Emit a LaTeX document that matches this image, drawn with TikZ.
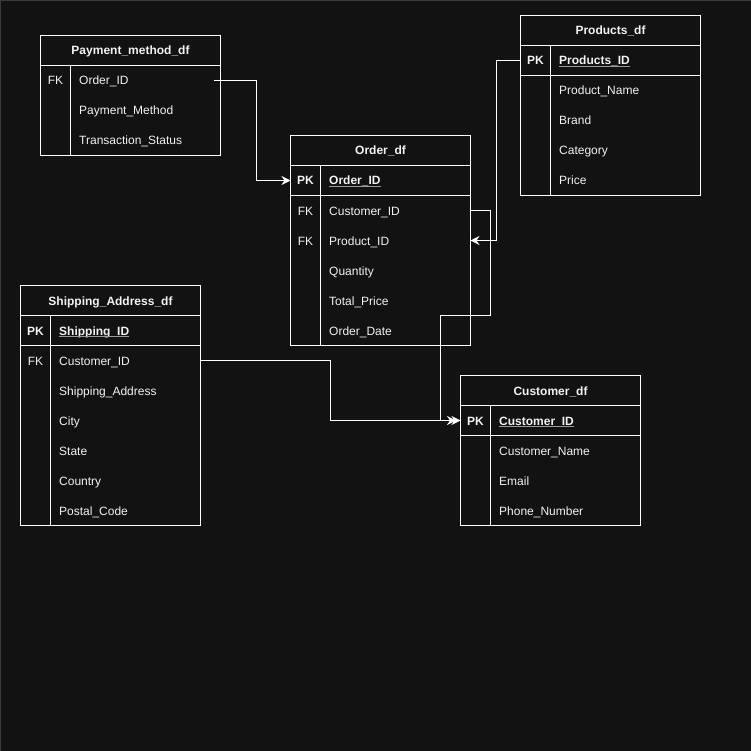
\documentclass[tikz,border=0pt]{standalone}
\usepackage{fontspec}
\setmainfont{Liberation Sans}
\usetikzlibrary{arrows.meta}
\definecolor{bg}{HTML}{121212}
\definecolor{fg}{HTML}{F2F2F2}
\definecolor{ulgray}{HTML}{9A9A9A}
\definecolor{edgegray}{HTML}{3C3C3C}
\newcommand\fz{\fontsize{12}{14}\selectfont}
\tikzset{
  tblbox/.style={draw=white, line width=1pt, inner sep=0pt, outer sep=0pt, anchor=north west, minimum width=180pt},
  grid/.style={draw=white, line width=1pt},
  txt/.style={text=fg, inner sep=0pt, text height=9pt, text depth=0pt, font=\fz},
  hdr/.style={txt, anchor=center, font=\fz\bfseries},
  keyc/.style={txt, anchor=center},
  pkkey/.style={txt, anchor=center, font=\fz\bfseries},
  fld/.style={txt, anchor=west},
  pkfld/.style={txt, anchor=west, font=\fz\bfseries},
  ul/.style={draw=ulgray, line width=1pt},
  rel/.style={draw=white, line width=1pt, -{Stealth[length=9pt,width=9pt,inset=3pt]}},
}
\newcommand\ulnode[1]{\draw[ul] ([yshift=-1.6pt]#1.base west) -- ([yshift=-1.6pt]#1.base east);}
\begin{document}
\begin{tikzpicture}[x=1pt,y=-1pt]
\fill[bg] (0,0) rectangle (751,751);
\useasboundingbox (0,0) rectangle (751,751);
\draw[edgegray, line width=1pt] (0.5,751) -- (0.5,0.5) -- (751,0.5);

\begin{scope}[shift={(0.5,0.5)}]
% ---------- Payment_method_df ----------
\node[tblbox, minimum height=120pt] (pay) at (40,35) {};
\draw[grid] (40,65) -- (220,65);
\draw[grid] (70,65) -- (70,155);
\node[hdr] (pay_h) at (130,50) {Payment\_method\_df};
\node[keyc] (pay_k1) at (55,80) {FK};
\node[fld] (pay_f1) at (78.5,80) {Order\_ID};
\node[fld] (pay_f2) at (78.5,110) {Payment\_Method};
\node[fld] (pay_f3) at (78.5,140) {Transaction\_Status};

% ---------- Order_df ----------
\node[tblbox, minimum height=210pt] (order) at (290,135) {};
\draw[grid] (290,165) -- (470,165);
\draw[grid] (290,195) -- (470,195);
\draw[grid] (320,165) -- (320,345);
\node[hdr] (ord_h) at (380,150) {Order\_df};
\node[pkkey] (ord_kpk) at (305,180) {PK};
\node[pkfld] (ord_pk) at (328.5,180) {Order\_ID};
\ulnode{ord_pk}
\node[keyc] (ord_k1) at (305,210) {FK};
\node[keyc] (ord_k2) at (305,240) {FK};
\node[fld] (ord_cust) at (328.5,210) {Customer\_ID};
\node[fld] (ord_prod) at (328.5,240) {Product\_ID};
\node[fld] (ord_qty) at (328.5,270) {Quantity};
\node[fld] (ord_tot) at (328.5,300) {Total\_Price};
\node[fld] (ord_date) at (328.5,330) {Order\_Date};

% ---------- Products_df ----------
\node[tblbox, minimum height=180pt] (prod) at (520,15) {};
\draw[grid] (520,45) -- (700,45);
\draw[grid] (520,75) -- (700,75);
\draw[grid] (550,45) -- (550,195);
\node[hdr] (prod_h) at (610,30) {Products\_df};
\node[pkkey] (prod_kpk) at (535,60) {PK};
\node[pkfld] (prod_pk) at (558.5,60) {Products\_ID};
\ulnode{prod_pk}
\node[fld] (prod_f1) at (558.5,90) {Product\_Name};
\node[fld] (prod_f2) at (558.5,120) {Brand};
\node[fld] (prod_f3) at (558.5,150) {Category};
\node[fld] (prod_f4) at (558.5,180) {Price};

% ---------- Shipping_Address_df ----------
\node[tblbox, minimum height=240pt] (ship) at (20,285) {};
\draw[grid] (20,315) -- (200,315);
\draw[grid] (20,345) -- (200,345);
\draw[grid] (50,315) -- (50,525);
\node[hdr] (ship_h) at (110,300) {Shipping\_Address\_df};
\node[pkkey] (ship_kpk) at (35,330) {PK};
\node[pkfld] (ship_pk) at (58.5,330) {Shipping\_ID};
\ulnode{ship_pk}
\node[keyc] (ship_k1) at (35,360) {FK};
\node[fld] (ship_cust) at (58.5,360) {Customer\_ID};
\node[fld] (ship_f2) at (58.5,390) {Shipping\_Address};
\node[fld] (ship_f3) at (58.5,420) {City};
\node[fld] (ship_f4) at (58.5,450) {State};
\node[fld] (ship_f5) at (58.5,480) {Country};
\node[fld] (ship_f6) at (58.5,510) {Postal\_Code};

% ---------- Customer_df ----------
\node[tblbox, minimum height=150pt] (cust) at (460,375) {};
\draw[grid] (460,405) -- (640,405);
\draw[grid] (460,435) -- (640,435);
\draw[grid] (490,405) -- (490,525);
\node[hdr] (cust_h) at (550,390) {Customer\_df};
\node[pkkey] (cust_kpk) at (475,420) {PK};
\node[pkfld] (cust_pk) at (498.5,420) {Customer\_ID};
\ulnode{cust_pk}
\node[fld] (cust_f1) at (498.5,450) {Customer\_Name};
\node[fld] (cust_f2) at (498.5,480) {Email};
\node[fld] (cust_f3) at (498.5,510) {Phone\_Number};

% ---------- connectors ----------
\coordinate (paystart) at (213,80);
\draw[rel] (paystart) -- ++(42.5,0) |- (order.west |- ord_pk);
\draw[rel] (prod.west |- prod_pk) -- ++(-24,0) |- (order.east |- ord_prod);
\draw[rel] (order.east |- ord_cust) -- ++(20,0) -- ++(0,105) -- ++(-50,0) |- (cust.west |- cust_pk);
\draw[rel] (ship.east |- ship_cust) -- ++(130,0) |- ([xshift=-4.5pt]cust.west |- cust_pk);
\end{scope}
\end{tikzpicture}
\end{document}
